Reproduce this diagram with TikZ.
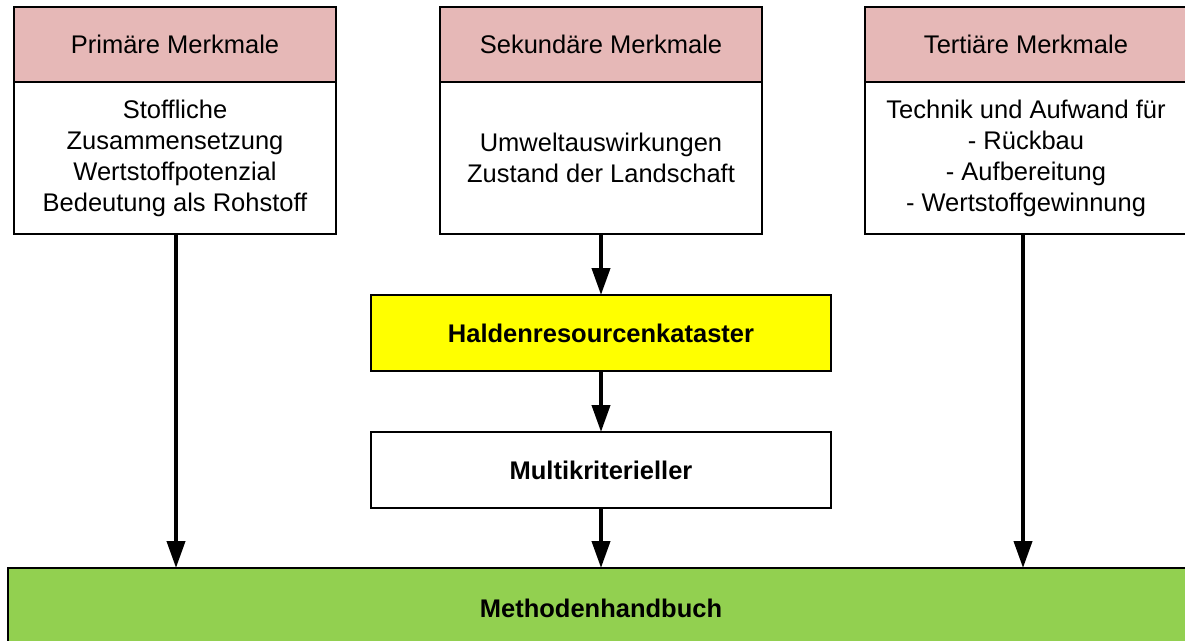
\documentclass[tikz,border=0pt]{standalone}
\usepackage{fontspec}
\setmainfont{Liberation Sans}
\usetikzlibrary{arrows.meta}
\definecolor{hdrpink}{RGB}{230,184,183}
\definecolor{kyellow}{RGB}{255,255,0}
\definecolor{kgreen}{RGB}{146,208,80}
\begin{document}
\begin{tikzpicture}[x=1pt,y=-1pt,
  box/.style={draw=black, line width=1.5pt, inner sep=0pt, outer sep=0pt, align=center,
    font=\fontsize{25.5}{31}\selectfont},
  hdr/.style={box, fill=hdrpink, minimum width=322pt, minimum height=75pt},
  bodybox/.style={box, fill=white, minimum width=322pt, minimum height=152pt},
  midbox/.style={box, font=\fontsize{25.5}{31}\selectfont\bfseries, minimum width=460pt, minimum height=76pt},
  conn/.style={line width=4pt, -{Triangle[width=18pt,length=27pt]}}
]
\useasboundingbox (0,0) rectangle (1185,640);
\clip (0,0) rectangle (1185,640);

\node[hdr] (h1) at (175,44.5) {Primäre Merkmale};
\node[bodybox] (b1) at (175,158) {Stoffliche\\Zusammensetzung\\Wertstoffpotenzial\\Bedeutung als Rohstoff};

\node[hdr] (h2) at (601,44.5) {Sekundäre Merkmale};
\node[bodybox] (b2) at (601,158) {Umweltauswirkungen\\Zustand der Landschaft};

\node[hdr] (h3) at (1026,44.5) {Tertiäre Merkmale};
\node[bodybox] (b3) at (1026,158) {Technik und Aufwand für\\- Rückbau\\- Aufbereitung\\- Wertstoffgewinnung};

\node[midbox, fill=kyellow] (hk) at (601,333) {Haldenresourcenkataster};
\node[midbox, fill=white] (mk) at (601,470) {Multikriterieller};

\node[box, fill=kgreen, font=\fontsize{25.5}{31}\selectfont\bfseries, minimum width=1186pt, minimum height=80pt] (mh) at (601,608) {Methodenhandbuch};

\coordinate (a1) at (176,234);
\coordinate (a3) at (1023,234);
\draw[conn] (a1) -- (a1 |- mh.north);
\draw[conn] (b2.south) -- (hk.north);
\draw[conn] (hk.south) -- (mk.north);
\draw[conn] (mk.south) -- (mh.north);
\draw[conn] (a3) -- (a3 |- mh.north);
\end{tikzpicture}
\end{document}
